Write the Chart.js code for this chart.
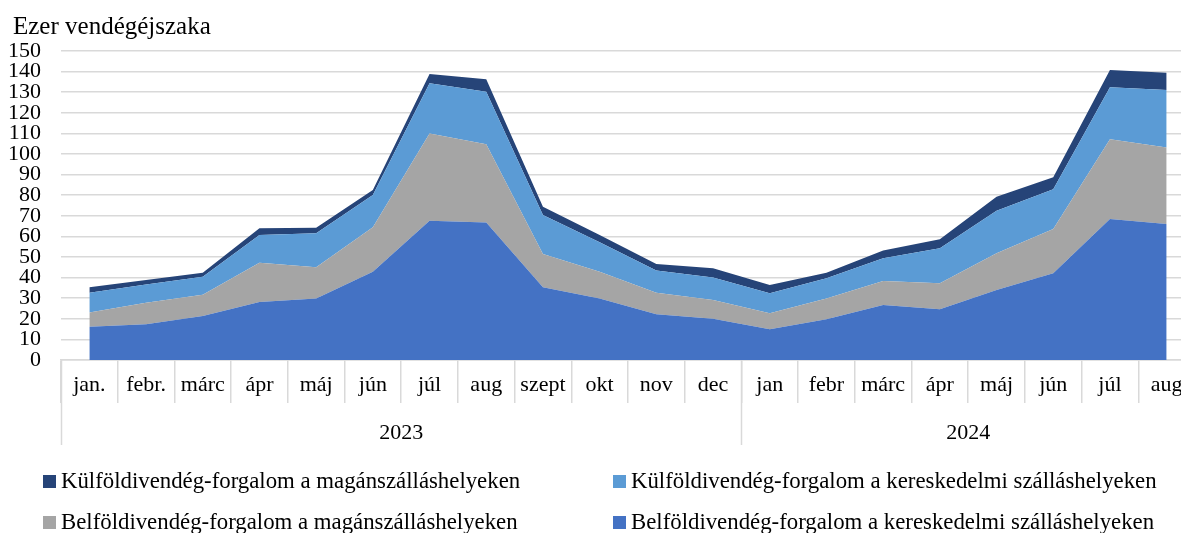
<!DOCTYPE html>
<html>
<head>
<meta charset="utf-8">
<script src="https://cdn.jsdelivr.net/npm/chart.js@4/dist/chart.umd.min.js"></script>
<style>
  html, body { margin: 0; padding: 0; background: #fff; overflow: hidden; }
  #wrap { width: 1181px; height: 533px; overflow: hidden; position: relative; }
  canvas { display: block; }
</style>
</head>
<body>
<div id="wrap"><canvas id="c" width="1200" height="533"></canvas></div>
<script>
const months = ['jan.','febr.','márc','ápr','máj','jún','júl','aug','szept','okt','nov','dec',
                'jan','febr','márc','ápr','máj','jún','júl','aug'];
const years = ['2023', '2024'];
const yearSpans = [12, 8];
const yTitle = 'Ezer vendégéjszaka';

const belfoldKereskedelmi = [16.2, 17.3, 21.4, 28.2, 29.9, 42.9, 67.6, 66.7, 35.3, 29.9, 22.2, 20.0,
                             14.9, 19.8, 26.7, 24.6, 34.0, 42.1, 68.4, 66.0];
const belfoldMagan = [6.8, 10.5, 10.3, 19.0, 15.1, 21.5, 42.4, 38.0, 16.2, 13.0, 10.5, 9.1,
                      7.8, 10.1, 11.6, 12.6, 17.8, 21.5, 38.7, 37.1];
const kulfoldKereskedelmi = [9.7, 8.8, 8.7, 13.5, 16.5, 15.7, 24.3, 25.5, 18.9, 14.3, 10.7, 11.0,
                             9.7, 9.8, 11.1, 17.0, 20.7, 19.3, 25.3, 28.0];
const kulfoldMagan = [2.6, 2.2, 2.0, 3.2, 2.7, 2.4, 4.5, 6.1, 4.0, 3.5, 3.2, 4.4,
                      4.0, 2.7, 3.7, 4.4, 6.8, 5.8, 8.4, 8.4];

const seriesNames = [
  'Belföldivendég-forgalom a kereskedelmi szálláshelyeken',
  'Belföldivendég-forgalom a magánszálláshelyeken',
  'Külföldivendég-forgalom a kereskedelmi szálláshelyeken',
  'Külföldivendég-forgalom a magánszálláshelyeken'
];
const seriesColors = ['#4472C4', '#A5A5A5', '#5B9BD5', '#264478'];
const seriesData = [belfoldKereskedelmi, belfoldMagan, kulfoldKereskedelmi, kulfoldMagan];

const FONT = '"Liberation Serif", "DejaVu Serif", serif';
const GRID = '#d9d9d9';

const extras = {
  id: 'extras',
  afterDraw(chart) {
    const ctx = chart.ctx;
    const xs = chart.scales.x;
    const area = chart.chartArea;
    const half = (xs.getPixelForValue(1) - xs.getPixelForValue(0)) / 2;
    ctx.save();
    // title
    ctx.fillStyle = '#000';
    ctx.font = '25px ' + FONT;
    ctx.textBaseline = 'middle';
    ctx.textAlign = 'left';
    ctx.fillText(yTitle, 13, 27);
    // year groups
    let start = 0;
    ctx.strokeStyle = GRID;
    ctx.lineWidth = 1.5;
    ctx.font = '22px ' + FONT;
    ctx.textAlign = 'center';
    years.forEach((yr, i) => {
      const x0 = xs.getPixelForValue(start) - half;
      const x1 = xs.getPixelForValue(start + yearSpans[i] - 1) + half;
      ctx.beginPath();
      ctx.moveTo(Math.round(x0) + 0.5, area.bottom);
      ctx.lineTo(Math.round(x0) + 0.5, area.bottom + 85);
      ctx.stroke();
      ctx.fillText(yr, (x0 + x1) / 2, area.bottom + 73);
      start += yearSpans[i];
    });
    // legend (reverse order, two columns)
    const order = [3, 2, 1, 0];
    const cols = [43, 613];
    const rows = [481, 522];
    ctx.textAlign = 'left';
    ctx.font = '22.8px ' + FONT;
    order.forEach((di, k) => {
      const cx = cols[k % 2];
      const cy = rows[Math.floor(k / 2)];
      ctx.fillStyle = seriesColors[di];
      ctx.fillRect(cx, cy - 6, 13, 13);
      ctx.fillStyle = '#000';
      ctx.fillText(chart.data.datasets[di].label, cx + 18, cy + 1);
    });
    ctx.restore();
  }
};

new Chart(document.getElementById('c'), {
  type: 'line',
  data: {
    labels: months,
    datasets: seriesData.map((d, i) => ({
      label: seriesNames[i],
      data: d,
      backgroundColor: seriesColors[i],
      borderColor: seriesColors[i],
      borderWidth: 0,
      pointRadius: 0,
      tension: 0,
      fill: i === 0 ? 'origin' : '-1'
    }))
  },
  options: {
    responsive: false,
    animation: false,
    devicePixelRatio: 1,
    layout: { padding: { left: 0, right: 5, top: 51, bottom: 0 } },
    plugins: { legend: { display: false }, tooltip: { enabled: false } },
    scales: {
      x: {
        type: 'category',
        offset: true,
        grid: { offset: true, drawOnChartArea: false, drawTicks: true, tickLength: 43, color: GRID, lineWidth: 1.5 },
        border: { display: true, color: GRID, width: 1.5 },
        ticks: { autoSkip: false, maxRotation: 0, padding: -31, color: '#000', font: { family: FONT, size: 22 } },
        afterFit(s) { s.height = 173; }
      },
      y: {
        stacked: true,
        min: 0, max: 150,
        ticks: { stepSize: 10, autoSkip: false, padding: 20, color: '#000', font: { family: FONT, size: 22, lineHeight: 1 } },
        grid: { color: GRID, lineWidth: 1.5, drawTicks: false },
        border: { display: false },
        afterFit(s) { s.width = 61; }
      }
    }
  },
  plugins: [extras]
});
</script>
</body>
</html>
